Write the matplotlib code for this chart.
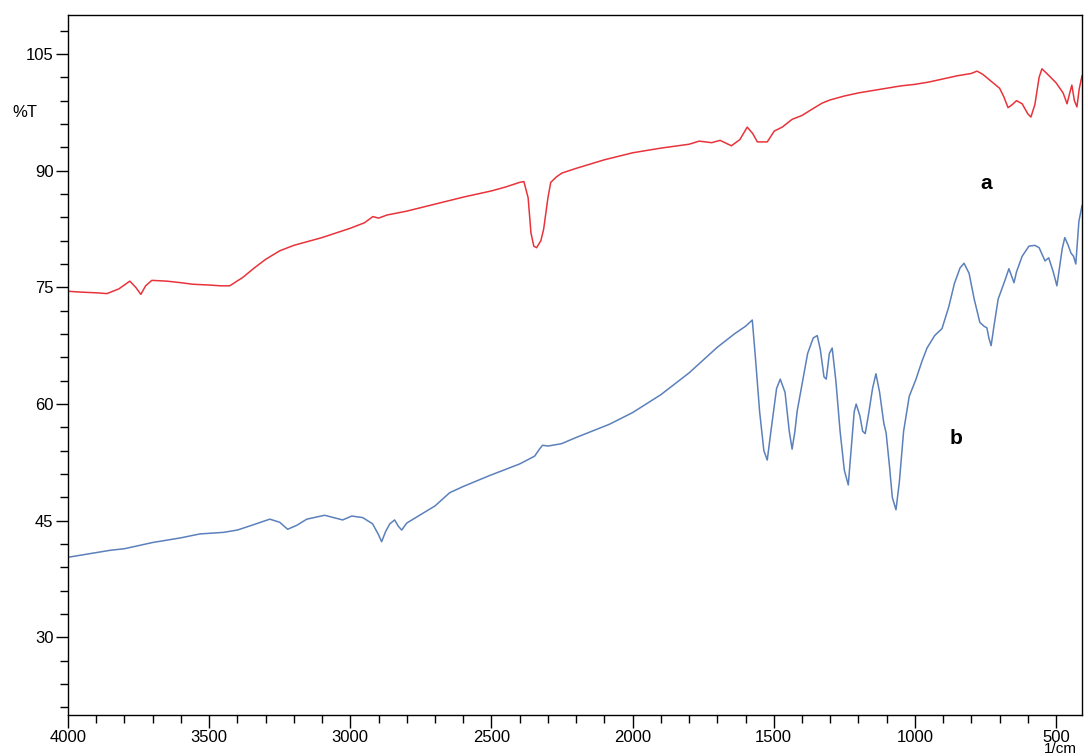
import numpy as np
import matplotlib.pyplot as plt
from matplotlib.ticker import MultipleLocator

plt.rcParams['font.family'] = ['Liberation Sans', 'DejaVu Sans']

# 曲线 a (红)
wn_a = [4000, 3960, 3900, 3862, 3820, 3781, 3760, 3742, 3725, 3703, 3650, 3600, 3558,
        3500, 3460, 3427, 3380, 3340, 3300, 3250, 3200, 3150, 3100, 3050, 3000, 2950,
        2920, 2900, 2870, 2800, 2700, 2600, 2500, 2450, 2400, 2385, 2370, 2360, 2350,
        2340, 2325, 2315, 2300, 2290, 2270, 2250, 2200, 2100, 2000, 1900, 1800, 1764,
        1720, 1690, 1650, 1620, 1594, 1575, 1558, 1523, 1498, 1470, 1435, 1400, 1360,
        1328, 1300, 1250, 1200, 1150, 1100, 1050, 1000, 950, 900, 850, 800, 780, 760,
        730, 700, 685, 670, 655, 640, 620, 600, 589, 575, 560, 550, 530, 500, 475, 461,
        450, 444, 435, 426, 418, 408]
T_a = [74.5, 74.4, 74.3, 74.2, 74.8, 75.8, 75.0, 74.1, 75.2, 75.9, 75.8, 75.6, 75.4,
       75.3, 75.2, 75.2, 76.3, 77.5, 78.6, 79.7, 80.4, 80.9, 81.4, 82.0, 82.6, 83.3,
       84.1, 83.9, 84.3, 84.8, 85.7, 86.6, 87.4, 87.9, 88.5, 88.6, 86.5, 82.0, 80.3,
       80.1, 81.0, 82.5, 86.5, 88.5, 89.2, 89.7, 90.3, 91.4, 92.3, 92.9, 93.4, 93.8,
       93.6, 93.9, 93.2, 94.0, 95.6, 94.8, 93.7, 93.7, 95.1, 95.6, 96.6, 97.1, 98.0,
       98.7, 99.1, 99.6, 100.0, 100.3, 100.6, 100.9, 101.1, 101.4, 101.8, 102.2, 102.5,
       102.8, 102.4, 101.5, 100.6, 99.5, 98.1, 98.5, 99.0, 98.6, 97.3, 96.9, 98.5,
       102.0, 103.1, 102.4, 101.3, 100.0, 98.6, 100.2, 101.0, 99.0, 98.2, 100.5, 102.2]

# 曲线 b (蓝)
wn_b = [4000, 3950, 3900, 3850, 3800, 3750, 3700, 3650, 3600, 3533, 3450, 3400, 3350,
        3285, 3250, 3222, 3190, 3154, 3091, 3027, 2995, 2956, 2921, 2900, 2889, 2875,
        2860, 2843, 2830, 2818, 2800, 2750, 2700, 2648, 2600, 2507, 2400, 2347, 2330,
        2319, 2300, 2252, 2200, 2082, 2000, 1900, 1800, 1700, 1640, 1600, 1576, 1565,
        1550, 1535, 1523, 1510, 1490, 1477, 1460, 1445, 1435, 1425, 1417, 1400, 1380,
        1360, 1346, 1335, 1322, 1314, 1303, 1293, 1280, 1265, 1250, 1236, 1225, 1215,
        1208, 1195, 1185, 1176, 1165, 1150, 1138, 1125, 1110, 1102, 1090, 1080, 1067,
        1055, 1040, 1020, 996, 975, 957, 930, 904, 880, 860, 840, 826, 808, 790, 770,
        755, 745, 738, 730, 720, 705, 695, 680, 667, 655, 649, 640, 620, 596, 575, 560,
        539, 526, 510, 497, 488, 478, 469, 458, 447, 438, 430, 419, 408]
T_b = [40.3, 40.6, 40.9, 41.2, 41.4, 41.8, 42.2, 42.5, 42.8, 43.3, 43.5, 43.8, 44.4,
       45.2, 44.8, 43.9, 44.4, 45.2, 45.7, 45.1, 45.6, 45.4, 44.6, 43.2, 42.3, 43.6,
       44.6, 45.1, 44.3, 43.8, 44.7, 45.8, 46.9, 48.6, 49.4, 50.8, 52.3, 53.3, 54.2,
       54.7, 54.6, 54.9, 55.7, 57.4, 58.9, 61.2, 64.0, 67.3, 69.0, 70.0, 70.8, 66.0,
       59.0, 54.0, 52.8, 56.5, 62.0, 63.2, 61.5, 56.5, 54.2, 56.5, 59.1, 62.5, 66.5,
       68.5, 68.8, 67.0, 63.5, 63.2, 66.5, 67.2, 63.0, 56.5, 51.5, 49.6, 54.5, 59.0,
       60.0, 58.5, 56.5, 56.2, 58.5, 62.0, 63.9, 61.5, 57.5, 56.3, 52.0, 48.0, 46.4,
       50.0, 56.5, 61.0, 63.2, 65.5, 67.2, 68.8, 69.7, 72.5, 75.5, 77.5, 78.1, 76.8,
       73.5, 70.5, 70.0, 69.8, 68.5, 67.5, 70.0, 73.5, 74.5, 76.0, 77.4, 76.2, 75.6,
       77.0, 79.0, 80.3, 80.4, 80.1, 78.4, 78.8, 77.0, 75.2, 77.5, 80.0, 81.4, 80.5,
       79.4, 79.0, 78.0, 83.5, 85.5]

fig = plt.figure(figsize=(10.88, 7.56), dpi=100)
ax = fig.add_axes([0.0625, 0.054, 0.932, 0.926])

ax.plot(wn_a, T_a, color='#e8333b', lw=1.1)
ax.plot(wn_b, T_b, color='#5b80bb', lw=1.1)

ax.set_xlim(4000, 408)
ax.set_ylim(20, 110)

ax.xaxis.set_major_locator(MultipleLocator(500))
ax.xaxis.set_minor_locator(MultipleLocator(100))
ax.yaxis.set_minor_locator(MultipleLocator(3))
ax.set_yticks([30, 45, 60, 75, 90, 105])
ax.tick_params(which='major', direction='out', length=9, width=1, labelsize=12, pad=1.5)
ax.tick_params(which='minor', direction='out', length=6, width=1)
for s in ax.spines.values():
    s.set_linewidth(1.0)

# %T 和 1/cm 标注
ax.annotate('%T', xy=(0, 97.5), xycoords=('axes fraction', 'data'),
            xytext=(-31, 0), textcoords='offset points', ha='center', va='center', fontsize=12)
ax.annotate('1/cm', xy=(500, 0), xycoords=('data', 'axes fraction'),
            xytext=(3, -27), textcoords='offset points', ha='center', va='baseline', fontsize=11)

ax.text(748, 88.4, 'a', fontsize=15, fontweight='bold', ha='center', va='center')
ax.text(854, 55.6, 'b', fontsize=15, fontweight='bold', ha='center', va='center')

plt.savefig('out.png', dpi=100)
